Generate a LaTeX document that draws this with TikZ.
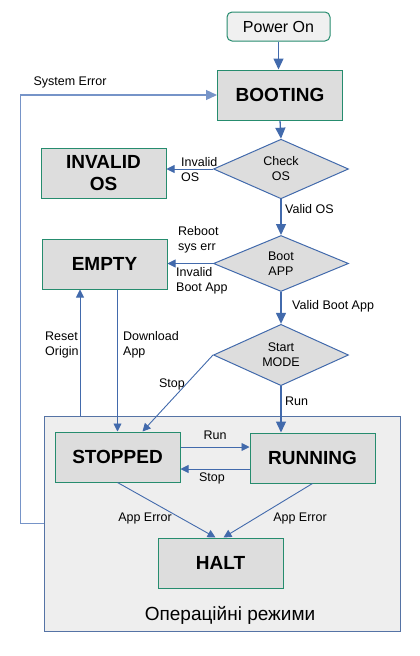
\documentclass[tikz,border=0pt]{standalone}
\usepackage{fontspec}
\setmainfont{Liberation Sans}
\usetikzlibrary{shapes.geometric, arrows.meta}

\definecolor{lineblue}{RGB}{66,106,172}
\definecolor{loopblue}{RGB}{118,148,200}
\definecolor{boxgreen}{RGB}{38,140,110}
\definecolor{boxgray}{RGB}{221,221,221}
\definecolor{powergray}{RGB}{240,240,240}
\definecolor{opsgray}{RGB}{238,238,238}
\definecolor{opsblue}{RGB}{85,115,165}

\tikzset{
  state/.style={rectangle, draw=boxgreen, line width=1pt, fill=boxgray, minimum width=125pt, minimum height=50pt, align=center, font=\fontsize{19}{22}\selectfont\bfseries},
  check/.style={diamond, draw=lineblue, line width=1pt, fill=boxgray, minimum width=135pt, minimum height=56pt, inner sep=0pt, align=center, font=\fontsize{12.5}{15}\selectfont},
  lbl/.style={inner sep=0pt, align=left, font=\fontsize{12.5}{15}\selectfont},
  flow/.style={draw=lineblue, line width=1.3pt, -{Triangle[width=10pt,length=11pt]}},
  slim/.style={draw=lineblue, line width=0.9pt, -{Triangle[width=8pt,length=8pt]}},
  sysloop/.style={draw=loopblue, line width=1.3pt, -{Triangle[width=10pt,length=11pt]}}
}

\begin{document}
\begin{tikzpicture}[x=1pt, y=-1pt]
                \useasboundingbox (0,0) rectangle (420,656);
                % Operating modes frame
                \node at (222,523.5) [draw=opsblue, fill=opsgray, line width=1pt, minimum width=356pt, minimum height=215pt, inner sep=0pt] (ops) {};
                \node at (230,615) [font=\fontsize{19}{22}\selectfont] (opslabel) {Операційні режими};

                % States and checks
                \node at (278.5,26.5) [rectangle, rounded corners=5pt, draw=boxgreen, line width=1pt, fill=powergray, minimum width=103pt, minimum height=29pt, font=\fontsize{16}{19}\selectfont] (power) {Power On};
                \node at (280,95) [state] (booting) {BOOTING};
                \node at (281,169) [check] (checkos) {Check\\OS};
                \node at (103.5,173) [state] (invalid) {INVALID\\OS};
                \node at (281,263.5) [check] (bootapp) {Boot\\APP};
                \node at (104.5,264) [state] (empty) {EMPTY};
                \node at (281,355) [check] (startmode) {Start\\MODE};
                \node at (117.5,457) [state] (stopped) {STOPPED};
                \node at (312.5,458) [state] (running) {RUNNING};
                \node at (220.5,563) [state] (halt) {HALT};
                \coordinate (resetfoot) at (80,416);

                % Arrows
                \draw[flow] (power.south) -- (power.south |- booting.north);
                \draw[flow] (booting.south) -- (checkos.north);
                \draw[slim] (checkos.west) -- (checkos.west -| invalid.east);
                \draw[flow] (checkos.south) -- (bootapp.north);
                \draw[slim] (bootapp.west) -- (bootapp.west -| empty.east);
                \draw[flow] (bootapp.south) -- (startmode.north);
                \draw[flow] (startmode.south) -- (startmode.south |- running.north);
                \draw[slim] (startmode.west) -- ([xshift=25pt]stopped.north);
                \draw[slim] (resetfoot) -- (resetfoot |- empty.south);
                \draw[slim] (stopped.north |- empty.south) -- (stopped.north);
                \draw[slim] ([yshift=10pt]stopped.east) -- ([yshift=10pt]stopped.east -| running.west);
                \draw[slim] ([yshift=-11pt]running.west) -- ([yshift=-11pt]running.west -| stopped.east);
                \draw[slim] (stopped.south) -- ([xshift=-5pt]halt.north);
                \draw[slim] (running.south) -- ([xshift=3pt]halt.north);
                \draw[sysloop] (ops.west) -- ++(-23,0) |- (booting.west);

                % Labels
                \node at (70,82) [lbl] (syserr) {System Error};
                \node at (181,170) [lbl, anchor=west] (invalidos) {Invalid\\OS};
                \node at (285,209) [lbl, anchor=west] (validos) {Valid OS};
                \node at (178,240) [lbl, anchor=west] (reboot) {Reboot\\sys err};
                \node at (176,281) [lbl, anchor=west] (invalidapp) {Invalid\\Boot App};
                \node at (292,306) [lbl, anchor=west] (validapp) {Valid Boot App};
                \node at (45,345) [lbl, anchor=west] (reset) {Reset\\Origin};
                \node at (123,345) [lbl, anchor=west] (download) {Download\\App};
                \node at (172,384) [lbl] (stopmode) {Stop};
                \node at (285,401) [lbl, anchor=west] (runmode) {Run};
                \node at (215,435) [lbl] (run) {Run};
                \node at (212,478) [lbl] (stop) {Stop};
                \node at (145,518) [lbl] (apperrl) {App Error};
                \node at (300,518) [lbl] (apperrr) {App Error};
\end{tikzpicture}
\end{document}
